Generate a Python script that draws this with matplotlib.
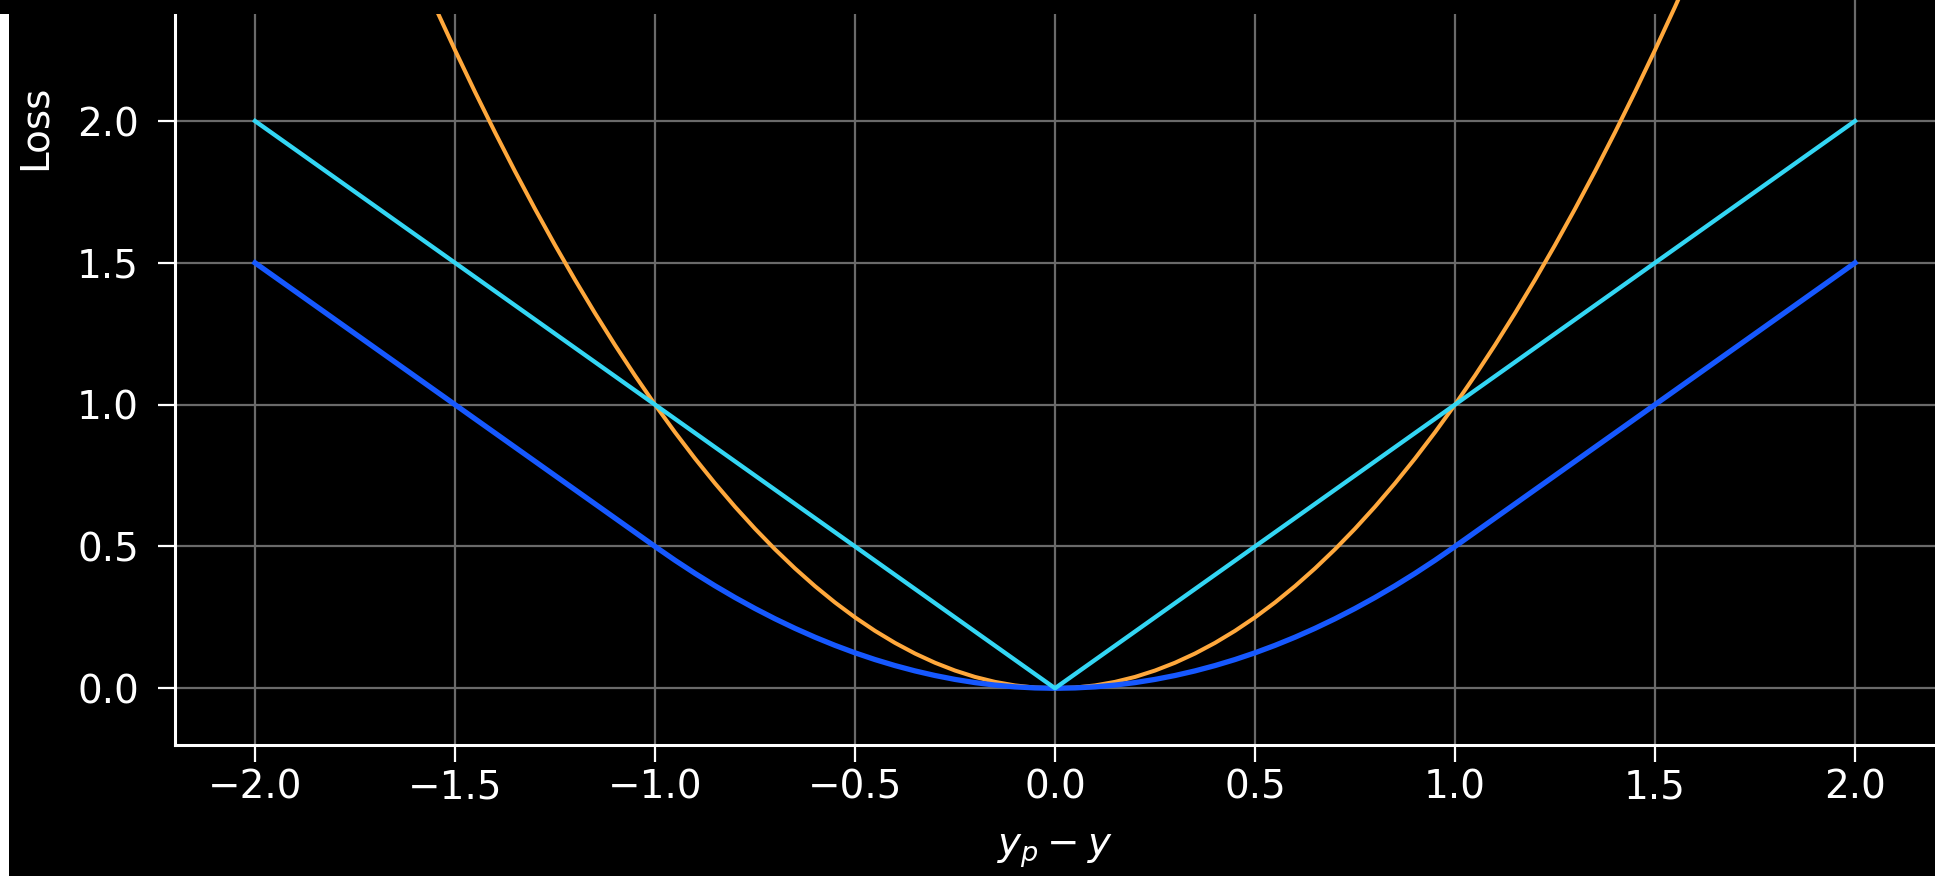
import matplotlib
matplotlib.use('Agg')
import matplotlib.pyplot as plt
from matplotlib.patches import Rectangle

# error values y_p - y for the squared loss
sq_err = [-2.00, -1.95, -1.90, -1.85, -1.80, -1.75, -1.70, -1.65, -1.60, -1.55,
          -1.50, -1.45, -1.40, -1.35, -1.30, -1.25, -1.20, -1.15, -1.10, -1.05,
          -1.00, -0.95, -0.90, -0.85, -0.80, -0.75, -0.70, -0.65, -0.60, -0.55,
          -0.50, -0.45, -0.40, -0.35, -0.30, -0.25, -0.20, -0.15, -0.10, -0.05,
          0.00,
          0.05, 0.10, 0.15, 0.20, 0.25, 0.30, 0.35, 0.40, 0.45, 0.50,
          0.55, 0.60, 0.65, 0.70, 0.75, 0.80, 0.85, 0.90, 0.95, 1.00,
          1.05, 1.10, 1.15, 1.20, 1.25, 1.30, 1.35, 1.40, 1.45, 1.50,
          1.55, 1.60, 1.65, 1.70, 1.75, 1.80, 1.85, 1.90, 1.95, 2.00]

# squared loss (orange)
sq_loss = [4.0000, 3.8025, 3.6100, 3.4225, 3.2400, 3.0625, 2.8900, 2.7225, 2.5600, 2.4025,
           2.2500, 2.1025, 1.9600, 1.8225, 1.6900, 1.5625, 1.4400, 1.3225, 1.2100, 1.1025,
           1.0000, 0.9025, 0.8100, 0.7225, 0.6400, 0.5625, 0.4900, 0.4225, 0.3600, 0.3025,
           0.2500, 0.2025, 0.1600, 0.1225, 0.0900, 0.0625, 0.0400, 0.0225, 0.0100, 0.0025,
           0.0000,
           0.0025, 0.0100, 0.0225, 0.0400, 0.0625, 0.0900, 0.1225, 0.1600, 0.2025, 0.2500,
           0.3025, 0.3600, 0.4225, 0.4900, 0.5625, 0.6400, 0.7225, 0.8100, 0.9025, 1.0000,
           1.1025, 1.2100, 1.3225, 1.4400, 1.5625, 1.6900, 1.8225, 1.9600, 2.1025, 2.2500,
           2.4025, 2.5600, 2.7225, 2.8900, 3.0625, 3.2400, 3.4225, 3.6100, 3.8025, 4.0000]

# error values for the huber loss (straight outside +-1)
hub_err = [-2.00,
           -1.00, -0.95, -0.90, -0.85, -0.80, -0.75, -0.70, -0.65, -0.60, -0.55,
           -0.50, -0.45, -0.40, -0.35, -0.30, -0.25, -0.20, -0.15, -0.10, -0.05,
           0.00,
           0.05, 0.10, 0.15, 0.20, 0.25, 0.30, 0.35, 0.40, 0.45, 0.50,
           0.55, 0.60, 0.65, 0.70, 0.75, 0.80, 0.85, 0.90, 0.95, 1.00,
           2.00]

# huber loss (blue)
hub_loss = [1.5,
            0.5, 0.45125, 0.405, 0.36125, 0.32, 0.28125, 0.245, 0.21125, 0.18, 0.15125,
            0.125, 0.10125, 0.08, 0.06125, 0.045, 0.03125, 0.02, 0.01125, 0.005, 0.00125,
            0.0,
            0.00125, 0.005, 0.01125, 0.02, 0.03125, 0.045, 0.06125, 0.08, 0.10125, 0.125,
            0.15125, 0.18, 0.21125, 0.245, 0.28125, 0.32, 0.36125, 0.405, 0.45125, 0.5,
            1.5]

# absolute loss (cyan)
abs_err = [-2.0, 0.0, 2.0]
abs_loss = [2.0, 0.0, 2.0]

xticks = [-2.0, -1.5, -1.0, -0.5, 0.0, 0.5, 1.0, 1.5, 2.0]
yticks = [0.0, 0.5, 1.0, 1.5, 2.0]

W, H = 1935, 876
fig = plt.figure(figsize=(W / 100, H / 100), dpi=100, facecolor='black')

# the axes reaches past the top of the picture (cropped figure)
ax_left, ax_bottom_px, ax_top_px = 175, 745, -503
ax = fig.add_axes([ax_left / W, (H - ax_bottom_px) / H,
                   1.0 - ax_left / W, (ax_bottom_px - ax_top_px) / H])
ax.set_facecolor('black')

ax.plot(sq_err, sq_loss, color='#ffa83c', lw=2.9, zorder=3)
ax.plot(hub_err, hub_loss, color='#1658ff', lw=3.8, zorder=4)
ax.plot(abs_err, abs_loss, color='#33d6f4', lw=3.1, zorder=5)

ax.set_xlim(-2.2, 2.2)
ax.set_ylim(-0.2, 4.2)
ax.set_xticks(xticks)
ax.set_yticks(yticks)
ax.grid(True, color='#6a6a6a', lw=1.6, zorder=0)

for s in ['top', 'right']:
    ax.spines[s].set_visible(False)
for s in ['left', 'bottom']:
    ax.spines[s].set_color('white')
    ax.spines[s].set_linewidth(2.2)

ax.tick_params(colors='white', labelsize=28, length=12, width=1.6)
ax.tick_params(axis='x', pad=5)
ax.tick_params(axis='y', pad=14)
ax.set_xlabel('$y_p - y$', color='white', fontsize=28)
ax.set_ylabel('Loss', color='white', fontsize=28)
ax_h = ax_bottom_px - ax_top_px
ax_w = W - ax_left
ax.xaxis.set_label_coords(0.5, -(851 - ax_bottom_px) / ax_h)
ax.yaxis.set_label_coords((35 - ax_left) / ax_w, (ax_bottom_px - 127) / ax_h)
ax.xaxis.label.set_va('center')
ax.yaxis.label.set_va('center')

# black strip over the top (bottom of a cut-off legend box)
fig.patches.append(Rectangle((0, (H - 14) / H), 1665 / W, 14 / H,
                             transform=fig.transFigure, facecolor='black',
                             edgecolor='none', zorder=10))
# white edge strip on the left
fig.patches.append(Rectangle((0, 0), 9 / W, (H - 14) / H,
                             transform=fig.transFigure, facecolor='white',
                             edgecolor='none', zorder=10))

fig.savefig('out.png', dpi=100, facecolor='black')
